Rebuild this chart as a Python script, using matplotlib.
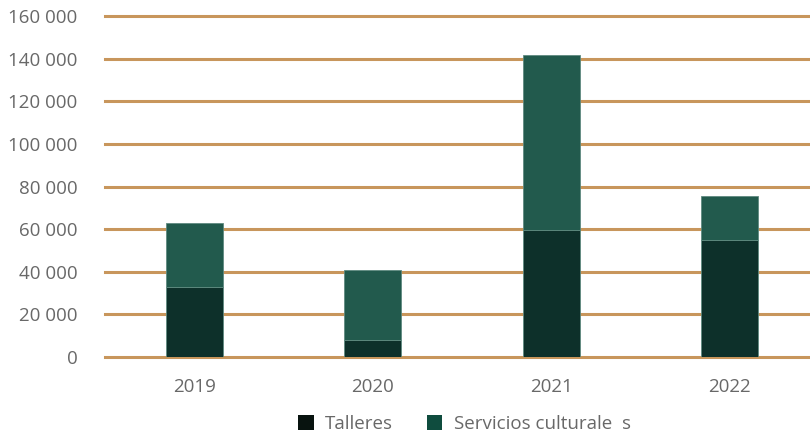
import matplotlib
matplotlib.use("Agg")
import matplotlib.pyplot as plt
from matplotlib.patches import Patch
from matplotlib.ticker import FuncFormatter

years = ["2019", "2020", "2021", "2022"]
talleres = [33000, 8200, 59500, 54800]
servicios = [30000, 32800, 82500, 21000]
yticks = [0, 20000, 40000, 60000, 80000, 100000, 120000, 140000, 160000]
legend_labels = ["Talleres", "Servicios culturale  s"]

c_talleres = "#0d302a"
c_servicios = "#225a4d"
c_grid = "#c8965c"
c_text = "#686868"

plt.rcParams["font.family"] = ["Open Sans", "DejaVu Sans"]

fig = plt.figure(figsize=(8.1, 4.38), dpi=100)
ax = fig.add_axes([0.13, 0.185, 0.87, 0.778])

x = range(len(years))
ax.bar(x, talleres, width=0.32, color=c_talleres, edgecolor="#5f8a80",
       linewidth=0.6, zorder=3)
ax.bar(x, servicios, bottom=talleres, width=0.32, color=c_servicios,
       edgecolor="#5f8a80", linewidth=0.6, zorder=3)

ax.set_xlim(-0.5, 3.45)
ax.set_ylim(0, 160000)
ax.set_yticks(yticks)
ax.yaxis.set_major_formatter(FuncFormatter(lambda v, p: f"{int(v):,}".replace(",", " ")))
ax.set_xticks(list(x))
ax.set_xticklabels(years)

for t in yticks:
    ax.axhline(t, color=c_grid, linewidth=2.2, zorder=1, clip_on=False)

for s in ax.spines.values():
    s.set_visible(False)
ax.tick_params(axis="both", length=0, labelsize=13.5, colors=c_text)
ax.tick_params(axis="y", pad=20)
ax.tick_params(axis="x", pad=15)

handles = [Patch(facecolor="#08130f"), Patch(facecolor="#0f4c3e")]
leg = fig.legend(handles, legend_labels, loc="center", bbox_to_anchor=(0.573, 0.032),
                 ncol=2, frameon=False, fontsize=13.5, handlelength=0.85,
                 handleheight=0.85, handletextpad=0.6, columnspacing=1.8)
for t in leg.get_texts():
    t.set_color(c_text)

fig.savefig("out.png", dpi=100)
